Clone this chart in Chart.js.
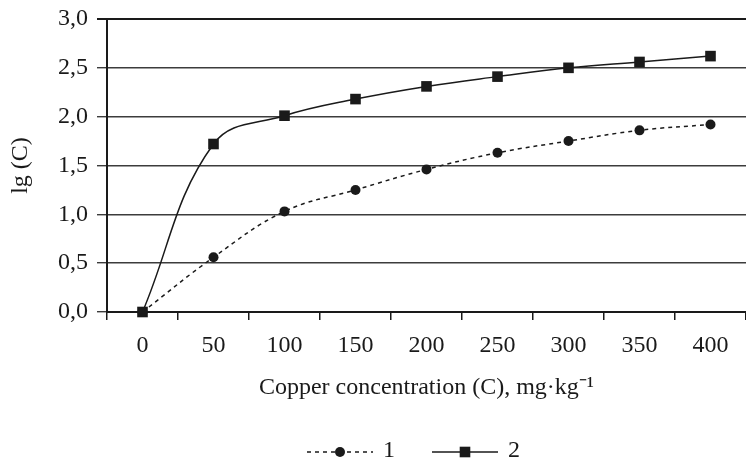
<!DOCTYPE html>
<html>
<head>
<meta charset="utf-8">
<script src="https://cdn.jsdelivr.net/npm/chart.js@4"></script>
<style>
  html, body { margin: 0; padding: 0; background: #fff; }
</style>
</head>
<body>
<canvas id="chart" width="746" height="463"></canvas>
<script>
// copper concentration, mg/kg (x categories)
const concentrations = ['0', '50', '100', '150', '200', '250', '300', '350', '400'];
// lg(C)
const series1 = [0, 0.56, 1.03, 1.25, 1.46, 1.63, 1.75, 1.86, 1.92];
const series2 = [0, 1.72, 2.01, 2.18, 2.31, 2.41, 2.50, 2.56, 2.62];
const seriesNames = ['1', '2'];
const yMin = 0, yMax = 3, yStep = 0.5;

const FONT = 'Liberation Serif, Times New Roman, serif';
const SIZE = 24;
const INK = '#1a1a1a';

// legend with a line sample through the marker, like the original
const lineLegend = {
    id: 'lineLegend',
    afterDraw(chart) {
        const ctx = chart.ctx;
        const area = chart.chartArea;
        const sets = chart.data.datasets;
        const lineLen = 66, textGap = 10, itemGap = 37;
        const y = chart.height - 11;
        ctx.save();
        ctx.font = SIZE + 'px ' + FONT;
        let total = 0;
        sets.forEach((ds, i) => {
            total += lineLen + textGap + ctx.measureText(ds.label).width;
            if (i < sets.length - 1) total += itemGap;
        });
        let x = (area.left + area.right) / 2 - 13 - total / 2;
        sets.forEach(ds => {
            ctx.strokeStyle = ds.borderColor;
            ctx.lineWidth = ds.borderWidth;
            ctx.setLineDash(ds.borderDash || []);
            ctx.beginPath();
            ctx.moveTo(x, y);
            ctx.lineTo(x + lineLen, y);
            ctx.stroke();
            ctx.setLineDash([]);
            ctx.fillStyle = ds.pointBackgroundColor;
            const px = x + lineLen / 2;
            ctx.beginPath();
            if (ds.pointStyle === 'rect') {
                const s = ds.pointRadius * Math.SQRT1_2;
                ctx.rect(px - s, y - s, 2 * s, 2 * s);
            } else {
                ctx.arc(px, y, ds.pointRadius, 0, Math.PI * 2);
            }
            ctx.fill();
            ctx.fillStyle = INK;
            ctx.textAlign = 'left';
            ctx.textBaseline = 'middle';
            ctx.fillText(ds.label, x + lineLen + textGap, y - 1);
            x += lineLen + textGap + ctx.measureText(ds.label).width + itemGap;
        });
        ctx.restore();
    }
};

new Chart(document.getElementById('chart').getContext('2d'), {
    type: 'line',
    data: {
        labels: concentrations,
        datasets: [
            {
                label: seriesNames[0],
                data: series1,
                borderColor: INK,
                borderWidth: 1.5,
                borderDash: [4, 4],
                pointStyle: 'circle',
                pointRadius: 5,
                pointBackgroundColor: INK,
                pointBorderWidth: 0,
                tension: 0.4,
                clip: false
            },
            {
                label: seriesNames[1],
                data: series2,
                borderColor: INK,
                borderWidth: 1.5,
                pointStyle: 'rect',
                pointRadius: 7.5,
                pointBackgroundColor: INK,
                pointBorderWidth: 0,
                tension: 0.4,
                clip: false
            }
        ]
    },
    options: {
        responsive: false,
        animation: false,
        layout: { autoPadding: false, padding: { top: 19, right: 0, bottom: 0, left: 0 } },
        plugins: {
            legend: { display: false },
            tooltip: { enabled: false }
        },
        scales: {
            x: {
                type: 'category',
                offset: true,
                grid: {
                    offset: true,
                    drawOnChartArea: false,
                    drawTicks: true,
                    tickLength: 8,
                    color: INK,
                    lineWidth: 1.5
                },
                border: { color: INK, width: 2 },
                ticks: {
                    color: INK,
                    padding: 11,
                    maxRotation: 0,
                    font: { family: FONT, size: SIZE }
                },
                title: {
                    display: true,
                    text: 'Copper concentration (C), mg·kg⁻¹',
                    color: INK,
                    font: { family: FONT, size: SIZE },
                    padding: { top: 0, bottom: 61 }
                },
                afterFit: s => { s.height = 151; s.paddingLeft = 0; s.paddingRight = 0; }
            },
            y: {
                min: yMin,
                max: yMax,
                ticks: {
                    stepSize: yStep,
                    color: INK,
                    padding: 9,
                    font: { family: FONT, size: SIZE },
                    callback: v => v.toFixed(1).replace('.', ',')
                },
                grid: {
                    tickLength: 10,
                    color: ctx => ctx.tick && ctx.tick.value === yMax ? INK : '#3c3c3c',
                    lineWidth: ctx => ctx.tick && ctx.tick.value === yMax ? 2 : 1.4
                },
                border: { color: INK, width: 2 },
                title: {
                    display: true,
                    text: 'lg (C)',
                    color: INK,
                    font: { family: FONT, size: SIZE },
                    padding: { top: 6, bottom: 0 }
                },
                afterFit: s => { s.width = 107; s.paddingTop = 0; s.paddingBottom = 0; }
            }
        }
    },
    plugins: [lineLegend]
});
</script>
</body>
</html>
